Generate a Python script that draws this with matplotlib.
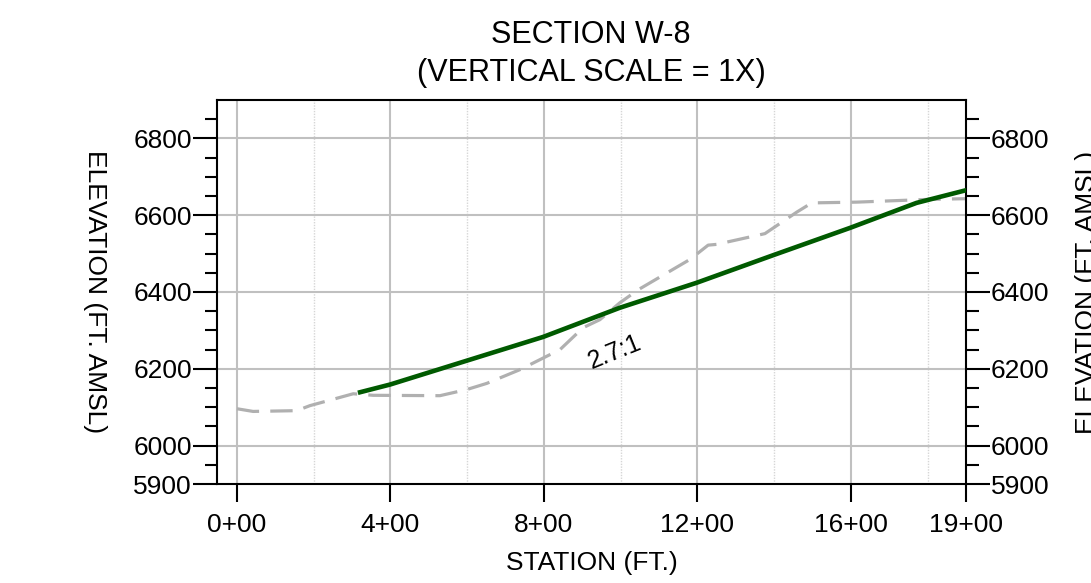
import numpy as np
import matplotlib
matplotlib.use("Agg")
import matplotlib.pyplot as plt
from matplotlib.ticker import MultipleLocator, FixedLocator

plt.rcParams['font.family'] = ['Liberation Sans', 'DejaVu Sans']

# existing ground (dashed gray)
ground_sta = [0, 42, 156, 190, 303, 355, 529, 599, 651, 738, 798, 842, 902, 946,
              998, 1046, 1181, 1228, 1250, 1376, 1459, 1498, 1615, 1798, 1900]
ground_elev = [6096, 6089, 6091, 6104, 6135, 6131, 6130, 6146, 6162, 6198, 6228, 6250,
               6307, 6328, 6372, 6406, 6485, 6522, 6524, 6552, 6608, 6632, 6634, 6641, 6643]

# proposed slope (green)
slope_sta = [321, 399, 798, 998, 1198, 1398, 1598, 1771, 1900]
slope_elev = [6139, 6159, 6283, 6359, 6424, 6496, 6567, 6632, 6665]

xticks = [0, 400, 800, 1200, 1600, 1900]
xtick_labels = ["0+00", "4+00", "8+00", "12+00", "16+00", "19+00"]
yticks = [5900, 6000, 6200, 6400, 6600, 6800]

fig = plt.figure(figsize=(10.91, 5.83), dpi=100)
ax = fig.add_axes([0.1989, 0.1698, 0.6865, 0.6587])

# grid
for x in [0, 400, 800, 1200, 1600]:
    ax.axvline(x, color="#c0c0c0", lw=1.5, zorder=1)
for x in [200, 600, 1000, 1400, 1800]:
    ax.axvline(x, color="#d6d6d6", lw=1.0, ls=(0, (1, 1)), zorder=1)
for y in [6000, 6200, 6400, 6600, 6800]:
    ax.axhline(y, color="#c0c0c0", lw=1.5, zorder=1)

ax.plot(ground_sta, ground_elev, color="#b0b0b0", lw=2.3, ls=(0, (7, 3.5)), zorder=2)
ax.plot(slope_sta, slope_elev, color="#005a00", lw=3.3, zorder=3)

ax.text(985, 6244, "2.7:1", fontsize=18, rotation=22, ha="center", va="center", zorder=4)

ax.set_xlim(-52, 1900)
ax.set_ylim(5900, 6900)
ax.set_xticks(xticks)
ax.set_xticklabels(xtick_labels)
ax.set_yticks(yticks)
ax.yaxis.set_minor_locator(FixedLocator(np.arange(5950, 6851, 50)))

ax.tick_params(axis="x", which="major", direction="out", length=13, width=1.5,
               labelsize=19, pad=8)
ax.tick_params(axis="y", which="major", direction="out", length=17, width=1.5,
               labelsize=19, pad=1, left=True, right=True, labelleft=True, labelright=True)
ax.tick_params(axis="y", which="minor", direction="out", length=9, width=1.5,
               left=True, right=True)
for s in ax.spines.values():
    s.set_linewidth(1.5)

ax.set_xlabel("STATION (FT.)", fontsize=19, labelpad=10)
fig.text(591 / 1091, 1 - 35 / 583, "SECTION W-8", fontsize=22, ha="center", va="center")
fig.text(591 / 1091, 1 - 73 / 583, "(VERTICAL SCALE = 1X)", fontsize=22,
         ha="center", va="center")

fig.text(95 / 1091, 1 - 292 / 583, "ELEVATION (FT. AMSL)", fontsize=19, rotation=270,
         ha="center", va="center")
fig.text(1087 / 1091, 1 - 292 / 583, "ELEVATION (FT. AMSL)", fontsize=19, rotation=90,
         ha="center", va="center")

fig.savefig("out.png", dpi=100)
